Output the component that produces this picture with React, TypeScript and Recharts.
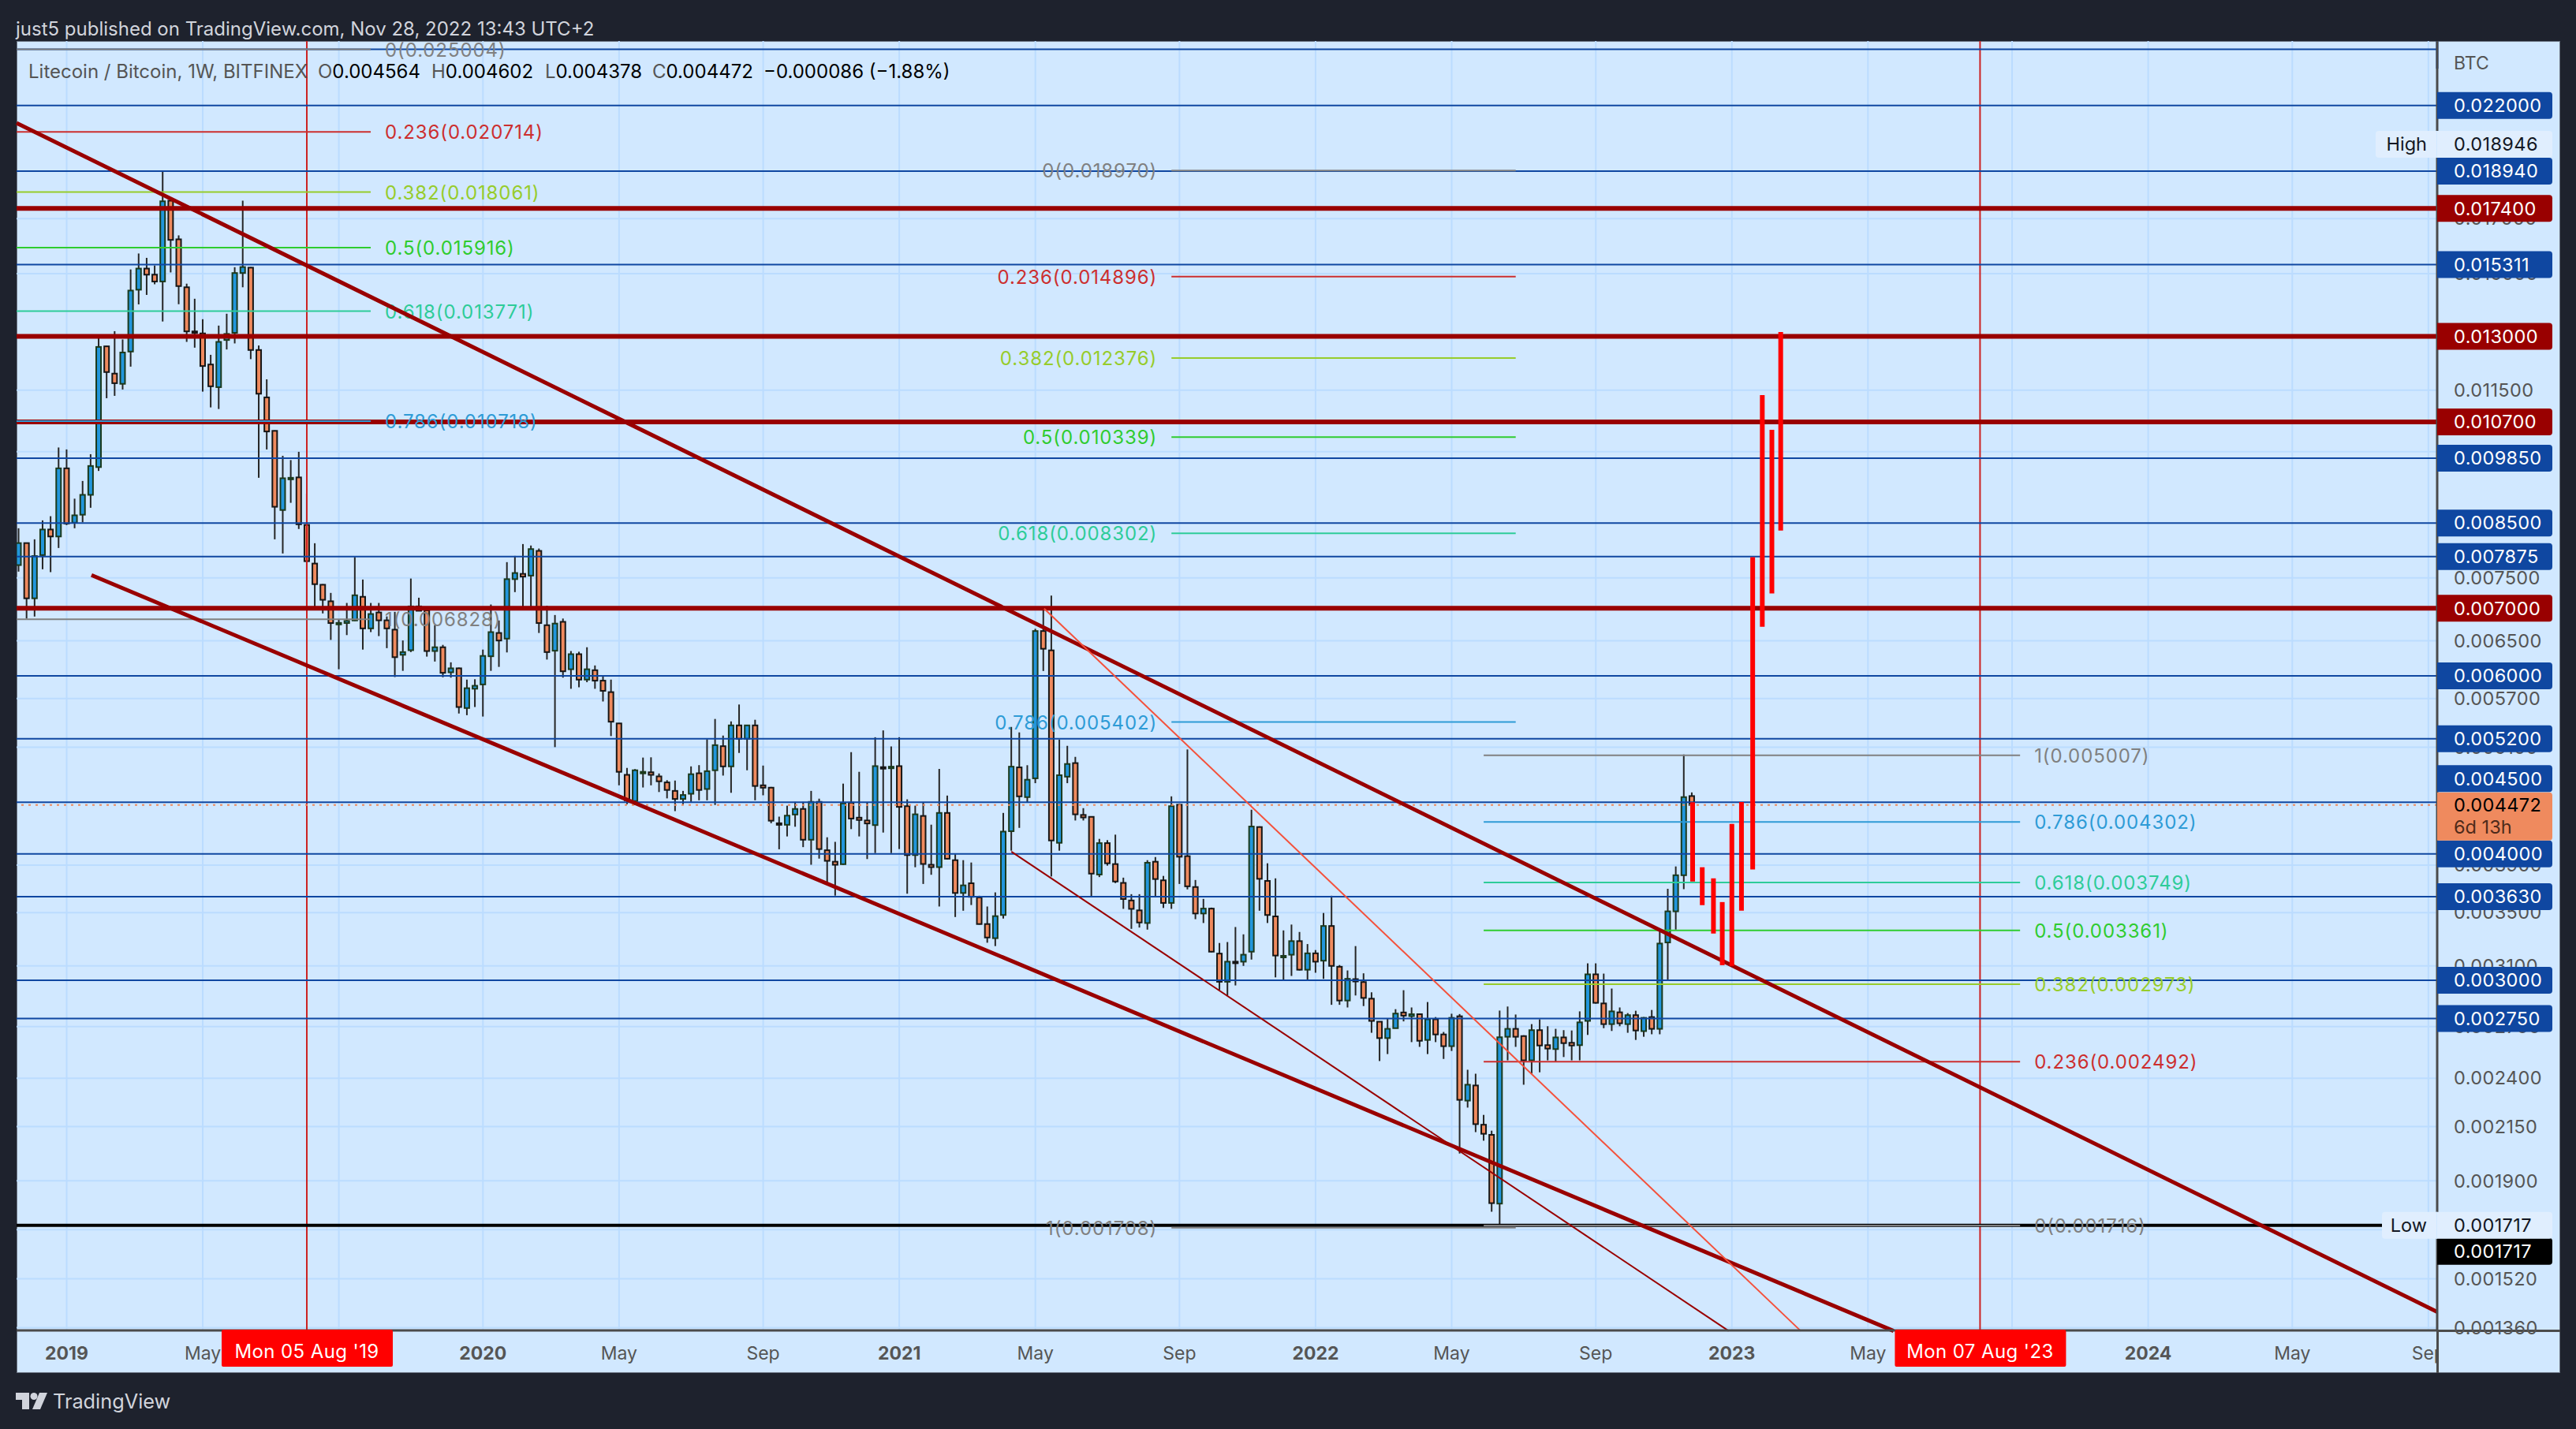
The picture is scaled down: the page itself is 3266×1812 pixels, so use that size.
import { Bar, CartesianGrid, ComposedChart, ReferenceLine, XAxis, YAxis } from "recharts";

// candle values in millionths of a BTC, one per week from 26 Nov 2018
const opens = [
  7723, 8120, 7160, 7901, 8375, 8243, 9627, 8505, 8662, 9063,
  9654, 12710, 11945, 11670, 12560, 14460, 15173, 14964, 14733, 17710,
  16218, 14540, 13150, 13090, 12195, 11582, 12895, 13107, 15020, 15205,
  12605, 11315, 10485, 8755, 9412, 9430, 8463, 7750, 7385, 7112,
  6768, 6768, 6808, 7185, 6686, 6933, 6810, 6667, 6296, 6362,
  7030, 6968, 6350, 6405, 6050, 6105, 5577, 5828, 5885, 6275,
  6617, 6532, 7480, 7570, 7540, 7977, 6735, 6355, 6787, 6092,
  6305, 5950, 6079, 5936, 5783, 5385, 4790, 4512, 4818, 4818,
  4773, 4708, 4618, 4534, 4588, 4807, 4638, 4840, 5113, 4883,
  5361, 5200, 5361, 4677, 4652, 4290, 4275, 4376, 4432, 4132,
  4504, 4034, 3930, 3908, 4496, 4345, 4317, 4272, 4875, 4862,
  4886, 4460, 3990, 4362, 3903, 3882, 4392, 3944, 3660, 3742,
  3623, 3410, 3302, 3481, 4213, 4872, 4553, 4752, 6646, 6360,
  4103, 4770, 4920, 4372, 4353, 3817, 4100, 3909, 3745, 3598,
  3518, 3418, 3930, 3767, 3578, 4475, 3980, 3710, 3493, 3532,
  3188, 2990, 3130, 3130, 3202, 4253, 3762, 3470, 3168, 3180,
  3280, 3073, 3190, 3137, 3395, 3094, 2865, 3008, 2988, 2877,
  2730, 2630, 2690, 2788, 2765, 2777, 2619, 2745, 2652, 2582,
  2764, 2281, 2361, 2159, 2110, 1804, 2638, 2686, 2642, 2500,
  2678, 2588, 2565, 2634, 2602, 2588, 2735, 3041, 2846, 2715,
  2789, 2715, 2771, 2672, 2759, 2686, 3270, 3510, 3811, 4564,
];
const closes = [
  8120, 7160, 7884, 8375, 8243, 9627, 8490, 8650, 9063, 9679,
  12693, 11987, 11687, 12533, 14432, 15173, 14964, 14733, 17685, 16198,
  14580, 13150, 13107, 12153, 11605, 12840, 13075, 15020, 15225, 12605,
  11410, 10470, 8820, 9412, 9422, 8475, 7792, 7395, 7136, 6768,
  6771, 6801, 7210, 6686, 6909, 6810, 6686, 6262, 6335, 7030,
  6960, 6350, 6405, 6043, 6105, 5590, 5835, 5867, 6280, 6630,
  6504, 7480, 7585, 7523, 8010, 6768, 6335, 6760, 6064, 6305,
  5950, 6092, 5936, 5800, 5406, 4823, 4520, 4840, 4823, 4790,
  4720, 4628, 4534, 4575, 4797, 4628, 4830, 5125, 4883, 5361,
  5200, 5361, 4670, 4652, 4315, 4275, 4365, 4432, 4132, 4504,
  4045, 3938, 3903, 4488, 4336, 4322, 4288, 4886, 4866, 4880,
  4453, 3990, 4378, 3910, 3882, 4392, 3957, 3660, 3724, 3628,
  3410, 3307, 3472, 4209, 4880, 4561, 4737, 6646, 6383, 4125,
  4786, 4910, 4378, 4347, 3825, 4100, 3916, 3757, 3610, 3530,
  3422, 3921, 3778, 3578, 4460, 3975, 3716, 3493, 3532, 3202,
  2990, 3130, 3122, 3180, 4258, 3780, 3481, 3174, 3172, 3280,
  3073, 3190, 3130, 3395, 3100, 2865, 3010, 2992, 2882, 2735,
  2630, 2686, 2781, 2768, 2777, 2614, 2745, 2652, 2582, 2754,
  2285, 2365, 2162, 2115, 1806, 2635, 2686, 2638, 2500, 2678,
  2586, 2568, 2634, 2600, 2586, 2726, 3041, 2850, 2715, 2795,
  2720, 2771, 2676, 2754, 2686, 3262, 3510, 3811, 4553, 4472,
];
const highs = [
  8399, 8125, 8190, 8551, 8633, 10095, 10050, 8984, 9354, 9942,
  13000, 12720, 13157, 12911, 15143, 15703, 15548, 15279, 18946, 17830,
  16365, 14660, 14165, 13520, 12467, 13325, 13690, 15220, 17710, 15225,
  12735, 11790, 10495, 9906, 9810, 9996, 9088, 8117, 7395, 7249,
  6820, 7085, 7866, 7473, 7085, 7085, 6871, 6943, 6505, 7490,
  7170, 6993, 6735, 6440, 6189, 6115, 5950, 5955, 6371, 7060,
  6808, 7775, 7887, 8102, 8075, 8020, 7040, 6893, 6838, 6350,
  6340, 6405, 6145, 6003, 5950, 5390, 4866, 4853, 4982, 4985,
  4805, 4732, 4728, 4618, 4883, 4897, 5195, 5440, 5238, 5410,
  5622, 5361, 5430, 4892, 4660, 4355, 4465, 4504, 4504, 4618,
  4537, 4155, 4112, 4695, 5044, 4823, 4502, 5218, 5300, 5110,
  5218, 4530, 4465, 4500, 4276, 4855, 4569, 3997, 3944, 3923,
  3637, 3549, 3665, 4392, 5342, 5276, 4896, 6680, 6984, 7205,
  5190, 5117, 4990, 4440, 4355, 4140, 4128, 4180, 3790, 3650,
  3650, 3944, 3972, 3805, 4561, 4483, 5075, 3770, 3611, 3540,
  3266, 3273, 3387, 3331, 4424, 4260, 3916, 3784, 3361, 3406,
  3349, 3258, 3214, 3497, 3637, 3106, 3068, 3243, 3048, 2919,
  2732, 2750, 2809, 2933, 2820, 2782, 2855, 2759, 2667, 2780,
  2778, 2447, 2425, 2208, 2130, 2800, 2826, 2775, 2647, 2715,
  2745, 2702, 2686, 2678, 2676, 2795, 3118, 3118, 3046, 2944,
  2820, 2784, 2799, 2759, 2804, 3367, 3695, 3888, 5017, 4602,
];
const lows = [
  7609, 6838, 6869, 7650, 7600, 8030, 8460, 8399, 8514, 8800,
  9570, 11294, 11355, 11520, 12136, 13985, 14290, 14640, 13450, 15040,
  13990, 12840, 12672, 11465, 11060, 11020, 12620, 12795, 14540, 12345,
  9422, 10050, 8190, 7930, 8900, 8385, 7018, 6993, 6918, 6513,
  6092, 6585, 6800, 6371, 6630, 6570, 6392, 5985, 6070, 6335,
  6955, 6270, 6200, 5982, 5977, 5508, 5487, 5590, 5470, 6070,
  6125, 6330, 7262, 6993, 7018, 6617, 6228, 5102, 5977, 5827,
  5847, 5915, 5827, 5661, 5232, 4677, 4480, 4472, 4654, 4677,
  4606, 4540, 4410, 4480, 4504, 4520, 4520, 4472, 4782, 4598,
  5035, 4840, 4520, 4572, 4290, 4043, 4163, 4256, 4063, 3903,
  3958, 3727, 3638, 3903, 4233, 4163, 3954, 4008, 4200, 4008,
  4045, 3654, 3881, 3736, 3815, 3549, 3951, 3465, 3515, 3561,
  3406, 3268, 3243, 3453, 4030, 4245, 4500, 4700, 6068, 3800,
  4030, 4700, 4317, 4317, 3625, 3795, 3895, 3743, 3530, 3373,
  3383, 3367, 3625, 3537, 3530, 3736, 3690, 3448, 3418, 3198,
  2935, 2898, 2965, 3100, 3145, 3515, 3418, 3020, 2995, 3030,
  3068, 3002, 3052, 3010, 2837, 2837, 2820, 2898, 2829, 2662,
  2496, 2536, 2690, 2732, 2606, 2578, 2536, 2606, 2508, 2554,
  2022, 2245, 2123, 2082, 1771, 1717, 2500, 2578, 2365, 2425,
  2433, 2500, 2492, 2519, 2500, 2500, 2649, 2845, 2690, 2673,
  2702, 2662, 2619, 2638, 2653, 2653, 3004, 3367, 3692, 4378,
];

// hand drawn projection bars after the last candle
const projectionWeeks = [209.1, 210.3, 211.7, 212.8, 214.0, 215.2, 216.6, 217.8, 219.0, 220.1];
const projectionTops = [4500, 3881, 3784, 3585, 4283, 4503, 7863, 11374, 10511, 13133];
const projectionBottoms = [3757, 3560, 3337, 3105, 3100, 3515, 3862, 6712, 7241, 8354];

const blueLevels = [0.025, 0.022, 0.01894, 0.015311, 0.00985, 0.0085, 0.007875, 0.006, 0.0052, 0.0045, 0.004, 0.00363, 0.003, 0.00275];
const redLevels = [0.0174, 0.013, 0.0107, 0.007];
const lowLevel = 0.001717;
const highLevel = 0.018946;
const lastClose = 0.004472;

const fibRatios = ["0", "0.236", "0.382", "0.5", "0.618", "0.786", "1"];
const fibColors = ["#808080", "#cc2f2f", "#97cc2b", "#2fcc2f", "#2ecc99", "#2e9bd6", "#808080"];
const fibTopLeft = [0.025004, 0.020714, 0.018061, 0.015916, 0.013771, 0.010718, 0.006828];
const fibMiddle = [0.01897, 0.014896, 0.012376, 0.010339, 0.008302, 0.005402, 0.001708];
const fibRight = [0.001716, 0.002492, 0.002973, 0.003361, 0.003749, 0.004302, 0.005007];

// trend lines as [week, price, week, price]
const thickTrends = [
  [-0.256, 0.02114, 302.1, 0.00141],
  [9.1, 0.007549, 234.2, 0.00135],
];
const thinDarkTrend = [124, 0.004022, 213.6, 0.00135];
const thinRedTrend = [128.1, 0.006993, 222.6, 0.00135];

const priceTicks = [0.017, 0.015, 0.0115, 0.01, 0.0075, 0.0065, 0.0057, 0.0051, 0.0039, 0.0035, 0.0031, 0.0027, 0.0024, 0.00215, 0.0019, 0.0017, 0.00152, 0.00136];
const weekTicks = [6, 23, 40, 58, 75, 93, 110, 127, 145, 162, 179, 197, 214, 231, 249, 266, 284, 301];
const weekLabels = ["2019", "May", "Sep", "2020", "May", "Sep", "2021", "May", "Sep", "2022", "May", "Sep", "2023", "May", "Sep", "2024", "May", "Sep"];
const dateMarkers = [
  { week: 36, label: "Mon 05 Aug '19" },
  { week: 245, label: "Mon 07 Aug '23" },
];

const rows = opens.map((open, i) => ({
  week: i,
  open: open / 1e6,
  close: closes[i] / 1e6,
  high: highs[i] / 1e6,
  low: lows[i] / 1e6,
}));

const FONT = "Inter, sans-serif";
const AXIS_TEXT = "#555555";
const BLUE = "#0f47a1";
const DARK_RED = "#990000";
const LABEL_X = 3111;
const WEEK_DOMAIN = [-0.256, 302.1];
const PRICE_DOMAIN = [0.0013515, 0.025477];

function Wick(props: any) {
  const { x, y, width, height } = props;
  return <rect x={x + width / 2 - 1} y={y} width={2} height={Math.max(height, 1)} fill="#262626" />;
}

function Body(props: any) {
  const { x, y, width, height, payload } = props;
  const up = payload.close >= payload.open;
  return (
    <rect
      x={x + 1}
      y={y}
      width={width - 2}
      height={Math.max(height, 2)}
      fill={up ? "#2196dc" : "#ef8a5e"}
      stroke={up ? "#1b3a1c" : "#161616"}
      strokeWidth={2}
    />
  );
}

function PriceTick({ y, payload }: any) {
  return (
    <text x={LABEL_X} y={y} dy="0.35em" fontFamily={FONT} fontSize={23.5} letterSpacing={0.4} fill={AXIS_TEXT}>
      {payload.value.toFixed(6)}
    </text>
  );
}

function WeekTick({ x, index }: any) {
  const label = weekLabels[index];
  const isYear = label.length === 4;
  return (
    <g>
      <clipPath id={`week-clip-${index}`}>
        <rect x={0} y={1690} width={3089} height={50} />
      </clipPath>
      <text
        x={x}
        y={1716}
        dy="0.35em"
        textAnchor="middle"
        clipPath={`url(#week-clip-${index})`}
        fontFamily={FONT}
        fontSize={23}
        fontWeight={isYear ? 700 : 400}
        fill={AXIS_TEXT}
      >
        {label}
      </text>
    </g>
  );
}

function badge(value: number, color: string, shift = 0) {
  return ({ viewBox }: any) => {
    const right = viewBox.x + viewBox.width;
    const cy = viewBox.y + shift;
    return (
      <g>
        <path d={`M${right} ${cy - 17}h142a4 4 0 0 1 4 4v26a4 4 0 0 1 -4 4h-142z`} fill={color} />
        <text x={LABEL_X} y={cy} dy="0.35em" fontFamily={FONT} fontSize={23.5} letterSpacing={0.4} fill="#ffffff">
          {value.toFixed(6)}
        </text>
      </g>
    );
  };
}

function statBox(name: string, value: number, left: number, shift: number) {
  return ({ viewBox }: any) => {
    const right = viewBox.x + viewBox.width;
    const cy = viewBox.y + shift;
    return (
      <g>
        <rect x={left} y={cy - 17} width={3236 - left} height={34} rx={4} fill="#e0eefe" />
        <text x={3077} y={cy} dy="0.35em" textAnchor="end" fontFamily={FONT} fontSize={23.5} fill="#131722">
          {name}
        </text>
        <text x={LABEL_X} y={cy} dy="0.35em" fontFamily={FONT} fontSize={23.5} letterSpacing={0.4} fill="#131722">
          {value.toFixed(6)}
        </text>
        <rect x={right - 1} y={cy - 17} width={1} height={34} fill="#d1e8ff" />
      </g>
    );
  };
}

function lastCloseBox({ viewBox }: any) {
  const right = viewBox.x + viewBox.width;
  const cy = viewBox.y;
  return (
    <g>
      <path d={`M${right} ${cy - 16}h142a4 4 0 0 1 4 4v53a4 4 0 0 1 -4 4h-142z`} fill="#ef8a5e" />
      <text x={LABEL_X} y={cy} dy="0.35em" fontFamily={FONT} fontSize={23.5} letterSpacing={0.4} fill="#000000">
        {lastClose.toFixed(6)}
      </text>
      <text x={LABEL_X} y={cy + 28} dy="0.35em" fontFamily={FONT} fontSize={23.5} fill="#4e2a1a">
        6d 13h
      </text>
    </g>
  );
}

function fibLabel(text: string, color: string, side: "right" | "left") {
  return ({ viewBox }: any) => (
    <text
      x={side === "right" ? viewBox.x + viewBox.width + 18 : viewBox.x - 18}
      y={viewBox.y}
      dy="0.38em"
      textAnchor={side === "right" ? "start" : "end"}
      fontFamily={FONT}
      fontSize={24}
      letterSpacing={0.9}
      fill={color}
    >
      {text}
    </text>
  );
}

function dateBubble(text: string) {
  return ({ viewBox }: any) => {
    const bottom = viewBox.y + viewBox.height;
    return (
      <g>
        <rect x={viewBox.x - 108} y={bottom - 1} width={217} height={47} rx={2} fill="#ff0000" />
        <text x={viewBox.x} y={bottom + 27} dy="0.35em" textAnchor="middle" fontFamily={FONT} fontSize={24} letterSpacing={0.4} fill="#ffffff">
          {text}
        </text>
      </g>
    );
  };
}

function fibLines(values: number[], from: number, to: number, side: "right" | "left") {
  return values.map((value, i) => (
    <ReferenceLine
      key={`${side}-${from}-${i}`}
      segment={[{ x: from, y: value }, { x: to, y: value }]}
      stroke={fibColors[i]}
      strokeWidth={2}
      ifOverflow="visible"
      label={fibLabel(`${fibRatios[i]}(${value.toFixed(6)})`, fibColors[i], side)}
    />
  ));
}

function trendLine(t: number[], color: string, width: number, key: string) {
  return (
    <ReferenceLine
      key={key}
      segment={[{ x: t[0], y: t[1] }, { x: t[2], y: t[3] }]}
      stroke={color}
      strokeWidth={width}
      ifOverflow="visible"
    />
  );
}

function Caption({ x, y, color, size = 24, children }: any) {
  return (
    <div
      style={{
        position: "absolute",
        left: x,
        top: y,
        transform: "translateY(-50%)",
        color,
        font: `${size}px ${FONT}`,
        whiteSpace: "nowrap",
      }}
    >
      {children}
    </div>
  );
}

export default function App() {
  return (
    <div style={{ position: "absolute", left: 0, top: 0, width: 3266, height: 1812, background: "#1e222d", overflow: "hidden" }}>
      <div style={{ position: "absolute", left: 21, top: 52, width: 3225, height: 1689, background: "#d1e8ff", boxSizing: "border-box", border: "1px solid #6b7483" }} />
      <div style={{ position: "absolute", left: 3089, top: 1686, width: 3, height: 55, background: "#4b4b4b" }} />
      <div style={{ position: "absolute", left: 3090, top: 1686, width: 156, height: 3, background: "#4b4b4b" }} />
      <div style={{ position: "absolute", left: 0, top: 0 }}>
        <ComposedChart
          width={3266}
          height={1812}
          data={rows}
          barGap={-8}
          margin={{ top: 52, right: 20, bottom: 71, left: 21 }}
        >
          <CartesianGrid
            stroke="#bbdcff"
            strokeWidth={2}
            horizontalValues={priceTicks}
            verticalValues={weekTicks}
          />
          <XAxis
            dataKey="week"
            type="number"
            domain={WEEK_DOMAIN}
            allowDataOverflow
            ticks={weekTicks}
            interval={0}
            height={54}
            tickLine={false}
            axisLine={{ stroke: "#4b4b4b", strokeWidth: 3 }}
            tick={<WeekTick />}
          />
          <YAxis
            orientation="right"
            scale="log"
            domain={PRICE_DOMAIN}
            allowDataOverflow
            ticks={priceTicks}
            interval={0}
            width={156}
            tickLine={false}
            axisLine={{ stroke: "#4b4b4b", strokeWidth: 3 }}
            tick={<PriceTick />}
          />

          {dateMarkers.map((m) => (
            <ReferenceLine key={m.week} x={m.week} stroke="#cc2222" strokeWidth={2} />
          ))}
          {blueLevels.map((value) => (
            <ReferenceLine key={value} y={value} stroke={BLUE} strokeWidth={2} />
          ))}
          <ReferenceLine
            segment={[{ x: 302.1, y: 0.025477 }, { x: 302.1, y: 0.023925 }]}
            stroke={BLUE}
            strokeWidth={3}
            ifOverflow="visible"
          />
          {redLevels.map((value) => (
            <ReferenceLine key={value} y={value} stroke={DARK_RED} strokeWidth={6} />
          ))}
          <ReferenceLine y={lowLevel} stroke="#000000" strokeWidth={4} />
          <ReferenceLine y={lastClose} stroke="#ef8a5e" strokeWidth={2} strokeDasharray="3 6" />

          {fibLines(fibTopLeft, -0.256, 43.98, "right")}
          {fibLines(fibMiddle, 144, 187, "left")}
          {fibLines(fibRight, 183, 250, "right")}

          {thickTrends.map((t, i) => trendLine(t, DARK_RED, 5, `thick-${i}`))}
          {trendLine(thinDarkTrend, DARK_RED, 2, "thin-dark")}
          {trendLine(thinRedTrend, "#f4513c", 2, "thin-red")}

          {projectionWeeks.map((week, i) => (
            <ReferenceLine
              key={week}
              segment={[{ x: week, y: projectionTops[i] / 1e6 }, { x: week, y: projectionBottoms[i] / 1e6 }]}
              stroke="#ff0000"
              strokeWidth={6}
              ifOverflow="visible"
            />
          ))}

          <Bar dataKey={(d: any) => [d.low, d.high]} barSize={8} shape={<Wick />} isAnimationActive={false} />
          <Bar
            dataKey={(d: any) => [Math.min(d.open, d.close), Math.max(d.open, d.close)]}
            barSize={8}
            shape={<Body />}
            isAnimationActive={false}
          />
        </ComposedChart>
      </div>

      {/* second transparent chart on the same scales so the price and date labels sit over the axis text */}
      <div style={{ position: "absolute", left: 0, top: 0 }}>
        <ComposedChart
          width={3266}
          height={1812}
          data={rows}
          margin={{ top: 52, right: 176, bottom: 125, left: 21 }}
        >
          <XAxis dataKey="week" type="number" domain={WEEK_DOMAIN} allowDataOverflow hide />
          <YAxis scale="log" domain={PRICE_DOMAIN} allowDataOverflow hide />
          {dateMarkers.map((m) => (
            <ReferenceLine key={m.week} x={m.week} stroke="none" label={dateBubble(m.label)} />
          ))}
          {blueLevels.slice(1).map((value) => (
            <ReferenceLine key={value} y={value} stroke="none" label={badge(value, BLUE, value === 0.0045 ? -30 : 0)} />
          ))}
          {redLevels.map((value) => (
            <ReferenceLine key={value} y={value} stroke="none" label={badge(value, DARK_RED)} />
          ))}
          <ReferenceLine y={highLevel} stroke="none" label={statBox("High", highLevel, 3012, -34)} />
          <ReferenceLine y={lowLevel} stroke="none" label={badge(lowLevel, "#000000", 33)} />
          <ReferenceLine y={lowLevel} stroke="none" label={statBox("Low", lowLevel, 3020, 0)} />
          <ReferenceLine y={lastClose} stroke="none" label={lastCloseBox} />
        </ComposedChart>
      </div>

      <Caption x={20} y={36} color="#d1d4dc">
        just5 published on TradingView.com, Nov 28, 2022 13:43 UTC+2
      </Caption>
      <Caption x={36} y={90} color="#555555">Litecoin / Bitcoin, 1W, BITFINEX</Caption>
      <Caption x={403} y={90} color="#555555">O<span style={{ color: "#000" }}>0.004564</span></Caption>
      <Caption x={547} y={90} color="#555555">H<span style={{ color: "#000" }}>0.004602</span></Caption>
      <Caption x={691} y={90} color="#555555">L<span style={{ color: "#000" }}>0.004378</span></Caption>
      <Caption x={827} y={90} color="#555555">C<span style={{ color: "#000" }}>0.004472</span></Caption>
      <Caption x={968} y={90} color="#000000">−0.000086 (−1.88%)</Caption>
      <Caption x={3111} y={80} color="#555555" size={23}>BTC</Caption>

      <svg style={{ position: "absolute", left: 20, top: 1766 }} width={40} height={21} viewBox="0 0 40 21">
        <path d="M0 0h17v21h-9v-12h-8z" fill="#d1d4dc" />
        <circle cx={23} cy={4.5} r={4.5} fill="#d1d4dc" />
        <path d="M30 0h10l-9 21h-10z" fill="#d1d4dc" />
      </svg>
      <Caption x={67} y={1776} color="#d1d4dc" size={25.3}>TradingView</Caption>
    </div>
  );
}
